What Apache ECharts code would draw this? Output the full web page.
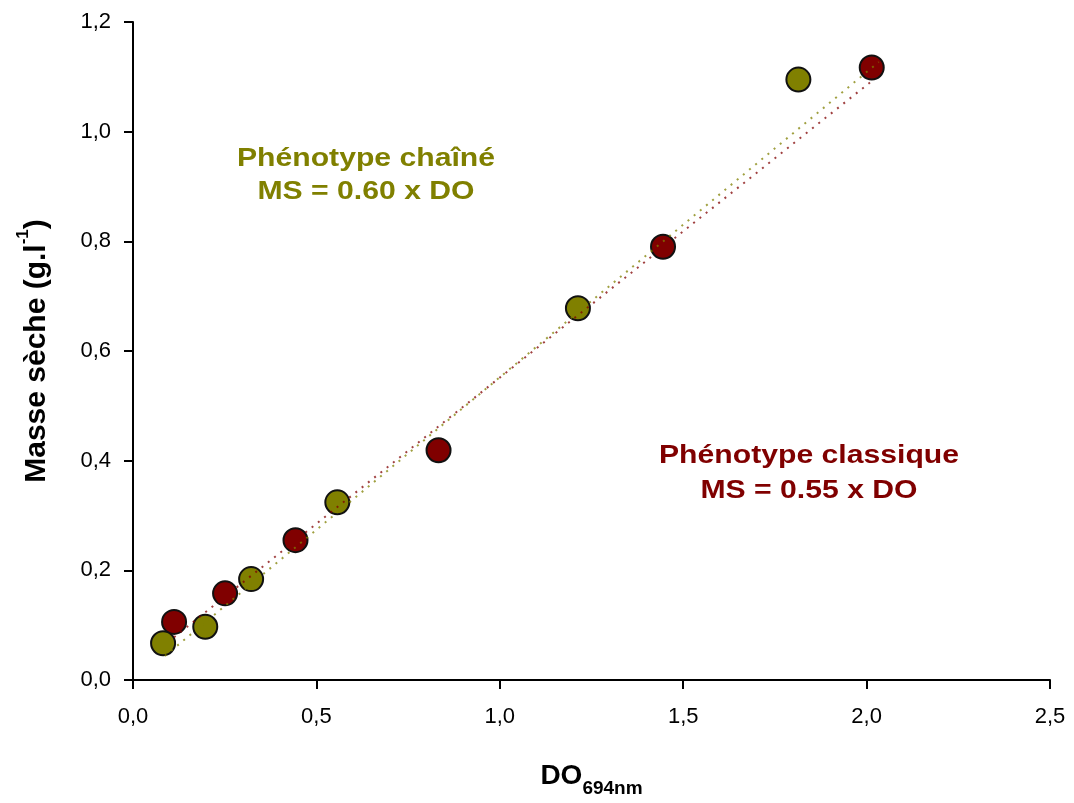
<!DOCTYPE html>
<html>
<head>
<meta charset="utf-8">
<script src="https://cdn.jsdelivr.net/npm/echarts@6/dist/echarts.min.js"></script>
<style>
  html, body { margin: 0; padding: 0; background: #fff; }
  #chart { width: 1074px; height: 803px; }
</style>
</head>
<body>
<div id="chart"></div>
<script>
(function () {
    "use strict";

    // Phénotype chaîné (olive)
    var chaineDO = [0.082, 0.197, 0.322, 0.557, 1.213, 1.814];
    var chaineMS = [0.067, 0.097, 0.184, 0.324, 0.678, 1.095];
    // Phénotype classique (red)
    var classiqueDO = [0.112, 0.251, 0.443, 0.833, 1.445, 2.014];
    var classiqueMS = [0.106, 0.158, 0.255, 0.419, 0.790, 1.117];

    // dotted trend lines, end points
    var chaineTrendDO = [0.087, 2.033];
    var chaineTrendMS = [0.044, 1.127];
    var classiqueTrendDO = [0.112, 2.019];
    var classiqueTrendMS = [0.078, 1.095];

    var olive = '#808000';
    var red = '#800000';
    var font = '"Liberation Sans", Arial, sans-serif';

    function pairs(xs, ys) {
        return xs.map(function (x, i) { return [x, ys[i]]; });
    }
    function comma(v) {
        return v.toFixed(1).replace('.', ',');
    }

    var chart = echarts.init(document.getElementById('chart'));

    var option = {
        backgroundColor: '#fff',
        animation: false,
        grid: { left: 133, right: 24, top: 22, bottom: 122 },
        xAxis: {
            type: 'value',
            min: 0, max: 2.5, interval: 0.5,
            name: '{a|DO}{b|694nm}',
            nameLocation: 'middle',
            nameGap: 82,
            nameTextStyle: {
                rich: {
                    a: { fontFamily: font, fontSize: 28, fontWeight: 'bold', color: '#000', lineHeight: 30, verticalAlign: 'top' },
                    b: { fontFamily: font, fontSize: 19, fontWeight: 'bold', color: '#000', lineHeight: 19, padding: [17, 0, 0, 0], verticalAlign: 'top' }
                }
            },
            axisLine: { lineStyle: { color: '#000', width: 2 } },
            axisTick: { length: 9, lineStyle: { color: '#000', width: 2 } },
            axisLabel: { margin: 26, fontFamily: font, fontSize: 22, color: '#000', formatter: comma },
            splitLine: { show: false }
        },
        yAxis: {
            type: 'value',
            min: 0, max: 1.2, interval: 0.2,
            name: '{a|Masse sèche (g.l}{b|-1}{a|)}',
            nameLocation: 'middle',
            nameGap: 86,
            nameTextStyle: {
                rich: {
                    a: { fontFamily: font, fontSize: 30, fontWeight: 'bold', color: '#000', lineHeight: 32, padding: [7, 0, 0, 0], verticalAlign: 'top' },
                    b: { fontFamily: font, fontSize: 17, fontWeight: 'bold', color: '#000', lineHeight: 17, verticalAlign: 'top' }
                }
            },
            axisLine: { lineStyle: { color: '#000', width: 2 } },
            axisTick: { length: 9, lineStyle: { color: '#000', width: 2 } },
            axisLabel: { margin: 22, fontFamily: font, fontSize: 22, color: '#000', formatter: comma },
            splitLine: { show: false }
        },
        graphic: [
            {
                type: 'text', x: 366, y: 175, scaleX: 1.16, z: 10,
                style: {
                    text: 'Phénotype chaîné\nMS = 0.60 x DO',
                    fill: olive, fontFamily: font, fontSize: 26, fontWeight: 'bold',
                    lineHeight: 33, textAlign: 'center', textVerticalAlign: 'middle'
                }
            },
            {
                type: 'text', x: 809, y: 473, scaleX: 1.16, z: 10,
                style: {
                    text: 'Phénotype classique\nMS = 0.55 x DO',
                    fill: red, fontFamily: font, fontSize: 26, fontWeight: 'bold',
                    lineHeight: 35, textAlign: 'center', textVerticalAlign: 'middle'
                }
            }
        ],
        series: [
            {
                name: 'Phénotype classique',
                type: 'scatter',
                z: 2,
                symbolSize: 24,
                itemStyle: { color: red, borderColor: '#111', borderWidth: 2, opacity: 1 },
                data: pairs(classiqueDO, classiqueMS)
            },
            {
                name: 'Phénotype chaîné',
                type: 'scatter',
                z: 2,
                symbolSize: 24,
                itemStyle: { color: olive, borderColor: '#111', borderWidth: 2, opacity: 1 },
                data: pairs(chaineDO, chaineMS)
            },
            {
                name: 'Tendance chaîné',
                type: 'line',
                z: 3,
                symbol: 'none',
                silent: true,
                lineStyle: { color: olive, width: 2, type: [2, 6], opacity: 0.75 },
                data: pairs(chaineTrendDO, chaineTrendMS)
            },
            {
                name: 'Tendance classique',
                type: 'line',
                z: 3,
                symbol: 'none',
                silent: true,
                lineStyle: { color: red, width: 2, type: [2, 6], opacity: 0.75 },
                data: pairs(classiqueTrendDO, classiqueTrendMS)
            }
        ]
    };

    chart.setOption(option);
})();
</script>
</body>
</html>
